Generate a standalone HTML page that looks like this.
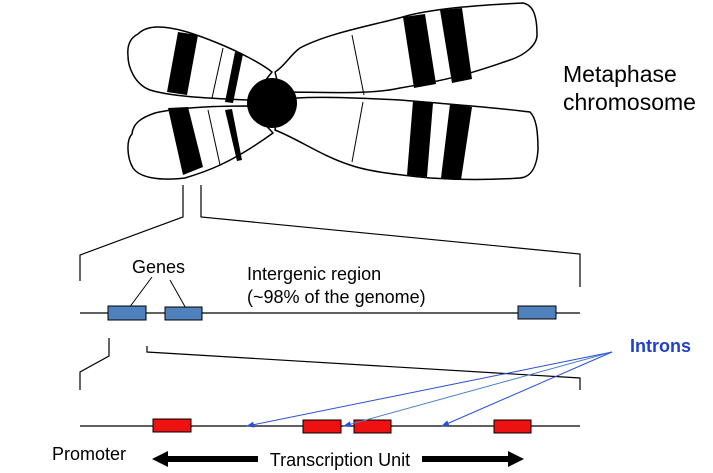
<!DOCTYPE html>
<html><head><style>
html,body{margin:0;padding:0;background:#fff;}
svg{display:block;font-family:"Liberation Sans",Arial,sans-serif;}
</style></head><body>
<svg width="713" height="473" viewBox="0 0 713 473" xmlns="http://www.w3.org/2000/svg">
<defs>
<marker id="ab" markerWidth="8" markerHeight="6" refX="7" refY="3" orient="auto" markerUnits="userSpaceOnUse"><path d="M0,0 L8,3 L0,6 z" fill="#2a4fd6"/></marker>
</defs>
<g fill="#fff" stroke="#000" stroke-width="1.5" stroke-linejoin="round">
<path d="M272,72 C262,64 240,52 215,42 C195,34 175,27 158,27 C148,27 142,30 138,34 C130,38 127,46 128,56 C128,66 134,84 150,90 C170,96 200,98 248,100 L250,100 Z"/>
<path d="M248,106 C215,106 180,107 155,113 C140,118 133,124 132,134 C126,140 127,158 133,168 C140,178 160,181 185,178 C205,172 230,164 273,133 Z"/>
<path d="M275,72 C285,66 290,55 300,48 C330,32 380,24 410,15 C440,8 480,5 523,3 C533,5 537,15 537,35 C537,45 525,55 510,60 C480,70 460,78 400,88 C370,95 320,92 280,92 Z"/>
<path d="M280,100 C300,96 340,97 400,100 C450,104 500,108 530,112 C536,118 538,130 538,150 C537,165 532,177 520,178 C490,180 460,180 430,178 C400,175 370,172 350,165 C320,155 300,140 275,130 Z"/>
</g>
<g fill="#000">
<polygon points="178,32 198,35 187,95 167,92"/>
<polygon points="235,52 243,54 233,103 225,102"/>
<polygon points="168,108 188,107 203,167 183,175"/>
<polygon points="225,110 232,109 242,160 237,161"/>
<polygon points="403,17 425,14 436,84 414,88"/>
<polygon points="440,10 462,8 472,79 452,83"/>
<polygon points="413,101 433,103 427,177 407,175"/>
<polygon points="450,104 472,107 461,180 441,178"/>
<circle cx="272" cy="103" r="25"/>
</g>
<g stroke="#000" stroke-width="1">
<line x1="223" y1="48" x2="212" y2="98"/>
<line x1="208" y1="110" x2="220" y2="165"/>
<line x1="352" y1="35" x2="364" y2="95"/>
<line x1="363" y1="102" x2="352" y2="162"/>
</g>
<text x="563" y="82" font-size="23">Metaphase</text>
<text x="563" y="110" font-size="23">chromosome</text>
<g stroke="#000" stroke-width="1.2" fill="none">
<polyline points="183,185 183,217 80,255 80,281"/>
<polyline points="201,185 201,217 580,254 580,287"/>
<line x1="80" y1="313" x2="580" y2="313"/>
<line x1="152" y1="277" x2="126" y2="312" stroke-width="1"/>
<line x1="170" y1="280" x2="188" y2="312" stroke-width="1"/>
<polyline points="109,338 109,356 80,372 80,390"/>
<polyline points="147,346 147,352 580,378 580,390"/>
<line x1="80" y1="426" x2="580" y2="426"/>
</g>
<g fill="#4f81bd" stroke="#000" stroke-width="1">
<rect x="108" y="306" width="38" height="14"/>
<rect x="165" y="307" width="37" height="13"/>
<rect x="518" y="306" width="38" height="13"/>
</g>
<text x="132" y="273" font-size="18">Genes</text>
<text x="247" y="280" font-size="18">Intergenic region</text>
<text x="247" y="303" font-size="18">(~98% of the genome)</text>
<g fill="#ee1111" stroke="#000" stroke-width="1">
<rect x="153" y="419" width="38" height="13"/>
<rect x="303" y="420" width="38" height="13"/>
<rect x="354" y="420" width="37" height="13"/>
<rect x="494" y="420" width="37" height="13"/>
</g>
<g stroke="#2a4fd6" stroke-width="1">
<line x1="612" y1="352" x2="247" y2="426" marker-end="url(#ab)"/>
<line x1="612" y1="352" x2="344" y2="426" marker-end="url(#ab)" stroke="#4a7fd0"/>
<line x1="612" y1="352" x2="442" y2="426" marker-end="url(#ab)"/>
</g>
<text x="630" y="352" font-size="18" font-weight="bold" fill="#1f3fcc">Introns</text>
<text x="52" y="460" font-size="18">Promoter</text>
<rect x="162" y="456" width="96" height="6" fill="#000"/>
<rect x="422" y="456" width="90" height="6" fill="#000"/>
<polygon points="152,459 168,451 168,467" fill="#000"/>
<polygon points="524,459 508,451 508,467" fill="#000"/>
<text x="340" y="466" font-size="18" text-anchor="middle">Transcription Unit</text>
</svg>
</body></html>
